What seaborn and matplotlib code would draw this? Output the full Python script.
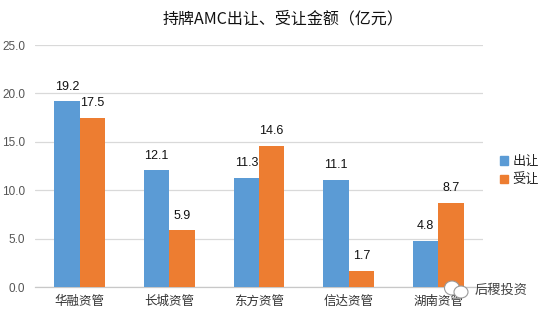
import matplotlib
matplotlib.use("Agg")
import matplotlib.pyplot as plt
from matplotlib.patches import Ellipse
import seaborn as sns
import pandas as pd

categories = ["华融资管", "长城资管", "东方资管", "信达资管", "湖南资管"]
out_values = [19.2, 12.1, 11.3, 11.1, 4.8]
in_values = [17.5, 5.9, 14.6, 1.7, 8.7]
series_names = ["出让", "受让"]
colors = ["#5B9BD5", "#ED7D31"]
title = "持牌AMC出让、受让金额（亿元）"
watermark = "后稷投资"
yticks = [0, 5, 10, 15, 20, 25]

sns.set_theme(style="white")
plt.rcParams['font.family'] = ['Noto Sans CJK SC', 'DejaVu Sans']

df = pd.DataFrame({
    "cat": categories * 2,
    "series": [series_names[0]] * 5 + [series_names[1]] * 5,
    "val": out_values + in_values,
})

W, H = 544, 316
fig = plt.figure(figsize=(W/100, H/100), dpi=100)
ax = fig.add_axes([35/W, 1-287/H, (483-35)/W, (287-45)/H])
sns.barplot(data=df, x="cat", y="val", hue="series", palette=colors, ax=ax,
            gap=0, width=0.565, saturation=1, legend=False, zorder=3,
            linewidth=0, edgecolor="none")
ax.set_ylim(0, 25)
ax.set_xlim(-0.5, 4.5)
ax.set_yticks(yticks)
ax.set_yticklabels([f"{v:.1f}" for v in yticks], fontsize=8.5, color="#555555", family="Liberation Sans")
ax.tick_params(axis="x", labelsize=9, colors="#333333", length=0, pad=6)
ax.tick_params(axis="y", length=0, pad=7)
ax.set_xlabel("")
ax.set_ylabel("")
ax.grid(axis="y", color="#D9D9D9", lw=0.9, zorder=0)
ax.set_axisbelow(True)
for s in ["top", "right", "left"]:
    ax.spines[s].set_visible(False)
ax.spines["bottom"].set_color("#C8C8C8")
ax.spines["bottom"].set_linewidth(0.9)

for cont in ax.containers:
    ax.bar_label(cont, fmt="%.1f", padding=6, fontsize=9, color="#111111", family="Liberation Sans")

handles = [plt.Rectangle((0, 0), 1, 1, color=c) for c in colors]
fig.legend(handles, series_names, loc="upper left", bbox_to_anchor=(500/W, 1-155/H),
           frameon=False, fontsize=9.5, handlelength=0.62, handleheight=0.62,
           handletextpad=0.3, labelspacing=0.42, borderpad=0, borderaxespad=0)
fig.text(283/W, 1-19/H, title, ha="center", va="center", fontsize=11.5, color="#111111")
fig.text(501/W, 1-290/H, watermark, ha="center", va="center", fontsize=9.5, color="#444444",
         zorder=6)
# WeChat-style watermark icon
for cx, cy, w, h in [(452, 288, 15, 14), (461, 292, 14, 12)]:
    fig.add_artist(Ellipse((cx/W, 1-cy/H), w/W, h/H, transform=fig.transFigure,
                           facecolor="white", edgecolor="#9A9A9A", lw=0.8, zorder=6))

fig.savefig("out.png", dpi=100)
